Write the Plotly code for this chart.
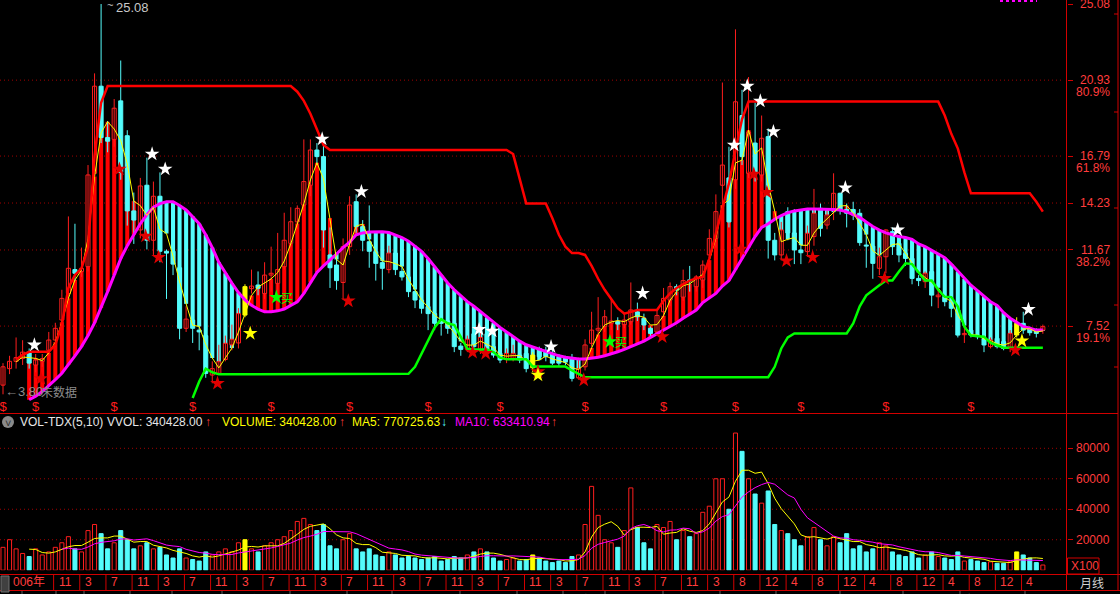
import numpy as np
import pandas as pd
import plotly.graph_objects as go

W, H = 1120, 594

# ---------------- data (monthly bars, 2006-03 .. 2019-07, 2015-07 missing) ----------------
opens = [4.30, 5.20, 5.60, 5.75, 6.10, 5.40, 5.60, 6.20, 6.76, 7.85,
         9.30, 10.60, 10.50, 10.76, 15.85, 20.60, 17.80, 17.70, 19.80, 17.90,
         13.80, 12.76, 15.20, 12.20, 14.60, 11.60, 11.60, 10.70, 7.40, 7.85,
         7.30, 7.00, 4.85, 4.94, 5.70, 6.50, 6.60, 8.12, 9.56, 9.76,
         9.30, 10.30, 9.85, 10.76, 12.03, 13.20, 14.12, 15.20, 17.12, 16.76,
         11.40, 10.85, 9.90, 11.85, 14.30, 12.94, 12.12, 11.58, 10.98, 10.60,
         11.50, 10.50, 10.20, 9.40, 8.94, 8.58, 8.20, 7.85, 7.80, 7.67,
         6.43, 6.25, 7.10, 6.20, 7.10, 6.40, 6.03, 5.70, 5.70, 5.94,
         6.03, 5.25, 6.30, 6.20, 6.03, 5.85, 5.76, 5.76, 4.70, 5.30,
         6.58, 7.30, 7.49, 7.67, 7.76, 7.60, 7.76, 8.30, 7.94, 7.40,
         7.20, 8.30, 8.94, 9.67, 9.10, 10.03, 9.67, 10.03, 11.40, 12.30,
         15.20, 15.60, 15.50, 19.00, 15.85, 17.50, 15.76, 17.85, 12.20, 11.40,
         13.76, 12.60, 11.67, 11.58, 12.40, 13.94, 13.03, 13.85, 14.76, 13.88,
         13.88, 13.67, 11.90, 11.88, 10.67, 11.30, 12.67, 12.03, 11.49, 11.21,
         10.12, 9.94, 10.49, 9.12, 9.12, 8.85, 8.40, 7.05, 7.30, 7.03,
         6.85, 6.40, 6.85, 6.67, 6.30, 7.03, 7.67, 7.40, 7.30, 7.30]
highs = [5.50, 5.90, 6.90, 6.75, 6.30, 6.00, 6.00, 7.20, 7.70, 9.50,
         13.50, 13.10, 11.80, 16.30, 21.30, 25.08, 18.70, 19.90, 22.00, 18.20,
         14.80, 15.60, 16.70, 15.40, 15.90, 11.70, 11.80, 10.90, 8.60, 8.60,
         8.20, 7.20, 5.60, 6.50, 7.00, 7.60, 8.50, 9.80, 10.60, 10.50,
         11.00, 11.85, 12.60, 13.70, 14.00, 14.10, 17.70, 17.70, 17.50, 17.40,
         12.90, 11.20, 12.30, 14.60, 14.70, 13.30, 14.10, 12.00, 11.20, 11.90,
         11.90, 10.90, 10.30, 9.60, 9.20, 8.80, 8.40, 8.00, 8.00, 8.00,
         6.60, 7.00, 7.30, 7.40, 7.40, 6.60, 6.20, 6.30, 6.50, 6.30,
         6.20, 6.10, 6.40, 6.40, 6.30, 6.00, 5.90, 6.00, 5.80, 6.80,
         8.30, 9.10, 8.40, 9.00, 8.00, 8.20, 9.90, 8.80, 8.20, 7.50,
         8.40, 9.60, 9.90, 9.80, 10.60, 10.80, 10.30, 11.10, 12.80, 14.70,
         20.80, 17.30, 23.70, 20.40, 21.10, 19.70, 19.00, 18.30, 12.60, 13.20,
         14.00, 13.90, 12.20, 13.00, 15.00, 14.20, 13.80, 15.85, 14.80, 14.20,
         14.30, 13.90, 12.60, 12.20, 11.80, 12.80, 12.90, 12.40, 11.70, 11.40,
         10.30, 10.50, 10.60, 9.50, 9.40, 9.00, 8.60, 7.50, 7.50, 7.20,
         7.00, 6.90, 7.00, 6.80, 7.30, 8.00, 8.30, 7.50, 7.40, 7.60]
lows = [3.80, 4.90, 5.20, 5.40, 5.20, 5.00, 5.30, 5.90, 6.40, 7.60,
        9.00, 10.00, 10.20, 10.50, 15.50, 17.50, 17.00, 17.30, 15.50, 13.00,
        12.00, 12.30, 11.70, 11.40, 11.00, 9.00, 10.30, 6.80, 7.20, 6.60,
        6.20, 4.70, 4.40, 4.90, 5.60, 6.20, 6.30, 8.00, 9.30, 9.20,
        9.00, 9.40, 9.40, 10.60, 11.80, 12.80, 13.80, 14.60, 16.30, 11.80,
        9.60, 9.50, 8.97, 11.40, 12.60, 11.60, 10.70, 10.00, 9.50, 10.40,
        10.30, 10.00, 9.10, 8.50, 8.20, 7.30, 7.30, 7.00, 7.10, 6.10,
        5.90, 6.10, 6.20, 6.00, 6.00, 5.80, 5.50, 5.50, 5.60, 5.50,
        5.00, 5.00, 5.70, 5.60, 5.40, 5.30, 5.40, 4.50, 4.60, 5.10,
        6.40, 6.90, 7.20, 7.30, 7.30, 7.40, 7.60, 7.80, 7.30, 6.90,
        7.00, 8.00, 8.60, 9.20, 8.90, 9.40, 9.40, 9.60, 11.10, 11.80,
        14.00, 12.90, 15.00, 16.30, 15.60, 15.40, 15.40, 11.20, 11.10, 11.10,
        12.20, 10.90, 10.90, 11.30, 11.90, 12.40, 12.80, 13.30, 13.60, 12.90,
        13.30, 11.90, 10.70, 10.10, 10.30, 10.40, 11.40, 11.00, 10.80, 9.80,
        9.70, 9.60, 8.60, 8.50, 8.60, 8.00, 6.90, 6.60, 6.90, 6.80,
        6.10, 6.30, 6.30, 6.20, 6.10, 6.90, 7.10, 7.00, 6.90, 7.10]
closes = [5.30, 5.60, 5.80, 6.10, 5.50, 5.67, 5.75, 6.76, 7.40, 9.03,
          10.67, 10.40, 10.67, 15.76, 20.60, 17.80, 17.60, 19.40, 15.90, 13.80,
          13.30, 15.16, 12.20, 14.60, 11.60, 11.50, 10.90, 7.40, 7.90, 7.40,
          7.20, 4.94, 5.20, 5.58, 6.58, 6.80, 8.20, 9.67, 9.70, 9.58,
          10.30, 10.40, 10.60, 12.20, 13.21, 13.94, 15.40, 17.12, 16.76, 12.76,
          10.70, 10.00, 11.85, 14.12, 12.94, 12.20, 11.60, 10.94, 10.67, 11.50,
          10.60, 10.20, 9.40, 8.94, 8.49, 8.20, 7.67, 7.67, 7.40, 6.40,
          6.25, 6.80, 6.40, 6.90, 6.20, 5.94, 5.67, 6.03, 6.03, 5.67,
          5.20, 5.94, 5.85, 5.85, 5.50, 5.50, 5.58, 4.67, 5.20, 6.49,
          7.30, 7.40, 8.03, 7.80, 7.63, 7.85, 8.40, 8.03, 7.58, 7.12,
          8.10, 9.03, 9.67, 9.49, 10.00, 9.98, 10.20, 10.85, 12.30, 13.76,
          16.30, 13.20, 19.75, 16.76, 18.10, 15.85, 17.76, 12.20, 11.40, 12.76,
          12.60, 11.67, 11.52, 12.58, 13.67, 12.85, 13.58, 14.76, 13.85, 13.67,
          13.58, 12.07, 11.88, 10.94, 11.30, 12.76, 11.85, 11.40, 11.21, 10.12,
          10.00, 10.40, 9.21, 9.21, 8.85, 8.49, 7.03, 7.12, 7.03, 6.94,
          6.49, 6.76, 6.40, 6.30, 7.12, 7.67, 7.30, 7.16, 7.12, 7.49]
volumes = [15000, 20000, 14000, 11000, 9000, 14000, 10000, 12000, 15000, 18000,
           22000, 14000, 12000, 26000, 30000, 24000, 14000, 18000, 26000, 20000,
           14000, 16000, 18000, 14000, 15000, 10000, 8000, 14000, 8000, 7000,
           6000, 12000, 10000, 12000, 14000, 12000, 18000, 20000, 14000, 12000,
           16000, 18000, 20000, 22000, 26000, 32000, 34000, 30000, 26000, 30000,
           16000, 14000, 20000, 24000, 14000, 12000, 14000, 10000, 9000, 12000,
           10000, 8000, 9000, 8000, 7000, 8000, 9000, 6000, 7000, 9000,
           8000, 10000, 12000, 14000, 12000, 8000, 6000, 7000, 8000, 6000,
           7000, 10000, 8000, 6000, 5000, 6000, 5000, 9000, 10000, 30000,
           55000, 36000, 20000, 18000, 15000, 26000, 54000, 28000, 18000, 14000,
           30000, 28000, 32000, 20000, 26000, 22000, 24000, 38000, 42000, 60000,
           60000, 40000, 90000, 78000, 60000, 50000, 44000, 52000, 30000, 26000,
           24000, 20000, 16000, 22000, 28000, 20000, 16000, 22000, 18000, 24000,
           14000, 16000, 12000, 14000, 18000, 16000, 12000, 10000, 9000, 12000,
           8000, 10000, 12000, 9000, 8000, 7000, 12000, 6000, 7000, 6000,
           5000, 5500, 4500, 4500, 5500, 12000, 10000, 8000, 5000, 3404]
slow_line = [None, None, None, None, 3.50, 3.70, 3.95, 4.25, 4.60, 4.95,
             5.40, 5.90, 6.40, 7.00, 7.70, 8.50, 9.40, 10.30, 11.20, 11.90,
             12.50, 13.10, 13.60, 14.00, 14.20, 14.30, 14.30, 14.10, 13.85, 13.50,
             13.10, 12.50, 11.80, 11.00, 10.40, 9.86, 9.35, 8.95, 8.65, 8.45,
             8.30, 8.30, 8.35, 8.45, 8.65, 8.84, 9.30, 9.90, 10.45, 10.80,
             11.10, 11.45, 11.80, 12.10, 12.50, 12.60, 12.65, 12.66, 12.66, 12.62,
             12.50, 12.35, 12.15, 11.90, 11.60, 11.20, 10.75, 10.30, 9.87, 9.50,
             9.15, 8.85, 8.60, 8.30, 8.00, 7.70, 7.45, 7.20, 6.95, 6.70,
             6.50, 6.38, 6.25, 6.12, 6.00, 5.90, 5.82, 5.76, 5.72, 5.72,
             5.76, 5.82, 5.90, 6.00, 6.12, 6.25, 6.38, 6.55, 6.70, 6.90,
             7.10, 7.30, 7.50, 7.70, 7.95, 8.15, 8.39, 8.80, 9.05, 9.30,
             9.70, 10.00, 10.60, 11.20, 11.80, 12.40, 12.90, 13.10, 13.35, 13.55,
             13.70, 13.80, 13.85, 13.90, 13.90, 13.90, 13.90, 13.88, 13.85, 13.75,
             13.60, 13.45, 13.20, 12.95, 12.75, 12.60, 12.50, 12.40, 12.35, 12.25,
             12.00, 11.85, 11.65, 11.45, 11.25, 10.90, 10.50, 10.10, 9.75, 9.45,
             9.15, 8.85, 8.65, 8.25, 7.95, 7.70, 7.50, 7.40, 7.30, 7.30]
upper_line = [None, None, 5.70, 5.95, 6.12, 6.12, 6.12, 6.12, 6.50, 7.60,
              9.60, 10.30, 10.67, 11.80, 16.80, 19.70, 20.61, 20.61, 20.61, 20.61,
              20.61, 20.61, 20.61, 20.61, 20.61, 20.61, 20.61, 20.61, 20.61, 20.61,
              20.61, 20.61, 20.61, 20.61, 20.61, 20.61, 20.61, 20.61, 20.61, 20.61,
              20.61, 20.61, 20.61, 20.61, 20.61, 20.30, 19.80, 19.10, 18.20, 17.40,
              17.12, 17.12, 17.12, 17.12, 17.12, 17.12, 17.12, 17.12, 17.12, 17.12,
              17.12, 17.12, 17.12, 17.12, 17.12, 17.12, 17.12, 17.12, 17.12, 17.12,
              17.12, 17.12, 17.12, 17.12, 17.12, 17.12, 17.12, 17.12, 16.90, 15.60,
              14.21, 14.21, 14.21, 14.21, 13.40, 12.50, 11.85, 11.50, 11.50, 11.40,
              10.80, 10.10, 9.50, 9.00, 8.50, 8.20, 8.30, 8.40, 8.40, 8.40,
              8.40, 8.90, 9.30, 9.60, 9.80, 10.00, 10.12, 10.20, 11.20, 12.60,
              13.90, 15.30, 17.10, 18.80, 19.76, 19.76, 19.76, 19.76, 19.76, 19.76,
              19.76, 19.76, 19.76, 19.76, 19.76, 19.76, 19.76, 19.76, 19.76, 19.76,
              19.76, 19.76, 19.76, 19.76, 19.76, 19.76, 19.76, 19.76, 19.76, 19.76,
              19.76, 19.76, 19.76, 19.76, 19.00, 18.00, 17.20, 15.90, 14.76, 14.76,
              14.76, 14.76, 14.76, 14.76, 14.76, 14.76, 14.76, 14.76, 14.30, 13.76]
lower_line = [None, None, None, None, None, None, None, None, None, None,
              None, None, None, None, None, None, None, None, None, None,
              None, None, None, None, None, None, None, None, None, 3.60,
              4.50, 5.20, 5.00, 4.89, 4.89, 4.89, 4.89, 4.89, 4.89, 4.89,
              4.89, 4.89, 4.89, 4.89, 4.89, 4.89, 4.89, 4.89, 4.89, 4.89,
              4.89, 4.89, 4.89, 4.89, 4.89, 4.89, 4.89, 4.89, 4.89, 4.89,
              4.89, 4.89, 4.92, 5.30, 6.00, 6.75, 7.45, 7.90, 7.67, 7.58,
              6.94, 6.28, 6.25, 6.25, 6.25, 6.10, 5.80, 5.71, 5.71, 5.71,
              5.71, 5.31, 5.31, 5.31, 5.31, 5.31, 5.31, 5.10, 4.90, 4.73,
              4.73, 4.73, 4.73, 4.73, 4.73, 4.73, 4.73, 4.73, 4.73, 4.73,
              4.73, 4.73, 4.73, 4.73, 4.73, 4.73, 4.73, 4.73, 4.73, 4.73,
              4.73, 4.73, 4.73, 4.73, 4.73, 4.73, 4.73, 4.73, 5.30, 6.30,
              6.90, 7.12, 7.12, 7.12, 7.12, 7.12, 7.12, 7.12, 7.12, 7.12,
              7.67, 8.60, 9.20, 9.50, 9.75, 10.00, 10.00, 10.50, 10.94, 10.90,
              10.45, 10.00, 10.00, 9.50, 9.12, 9.10, 8.58, 7.49, 7.00, 6.95,
              6.94, 6.60, 6.45, 6.34, 6.34, 6.34, 6.34, 6.34, 6.34, 6.34]
yellow_bars = [37, 81, 155]

white_star_idx = [4, 22, 24, 48, 54, 72, 74, 83, 97, 111, 113, 115, 117, 128, 136, 156]
white_star_val = [6.49, 16.90, 16.08, 17.72, 14.85, 7.34, 7.25, 6.39, 9.31, 17.39, 20.61, 19.79, 18.12, 15.06, 12.76, 8.43]
red_star_idx = [5, 17, 21, 23, 32, 52, 71, 73, 81, 88, 100, 112, 114, 116, 119, 123, 134, 154]
red_star_val = [4.66, 16.08, 12.43, 11.27, 4.40, 8.89, 6.09, 6.03, 5.03, 4.58, 6.94, 11.72, 15.81, 14.81, 11.08, 11.27, 10.12, 6.21]
yellow_star_idx = [37, 81, 155]
yellow_star_val = [7.12, 4.85, 6.71]
buy_idx = [41, 92]
buy_val = [9.09, 6.67]
dollar_idx = [0, 5, 17, 29, 41, 53, 65, 76, 89, 101, 112, 122, 135, 148]

tick_idx = [8, 12, 16, 20, 24, 28, 32, 36, 40, 44, 48, 52, 56, 60, 64, 68, 72, 76, 80, 84,
            88, 92, 96, 100, 104, 108, 112, 116, 120, 124, 128, 132, 136, 140, 144, 148, 152, 156]
tick_text = ["11", "3", "7", "11", "3", "7", "11", "3", "7", "11", "3", "7", "11", "3", "7", "11",
             "3", "7", "11", "3", "7", "11", "3", "7", "11", "3", "8", "12", "4", "8", "12", "4",
             "8", "12", "4", "8", "12", "4"]
first_label = "006年"

price_ticks = [25.08, 20.93, 16.79, 14.23, 11.67, 7.52]
price_pct = ["", "80.9%", "61.8%", "", "38.2%", "19.1%"]
vol_ticks = [20000, 40000, 60000, 80000]
vol_tick_text = ["20000", "40000", "60000", "80000"]

# ---------------- styling ----------------
RED = "#ff1e1e"
STRIPE_RED = "#ff0000"
CYAN = "#54fcfc"
YEL = "#ffff00"
MAG = "#ff00ff"
GRN = "#00ff00"
AXRED = "#d20000"
LBLRED = "#ff3c3c"
GRIDRED = "#a00000"
FONT = "Liberation Sans, Arial, Noto Sans CJK SC"
CJK = "Noto Sans CJK SC"

SPACING = 6.54      # px per bar
X0PX = 3.0          # px of bar 0
PLOT_R = 1066.7     # right edge of plot area (px)
x_range = [-X0PX / SPACING, (PLOT_R - X0PX) / SPACING]
P_TOP, P_PER_PX = 25.30, 1 / 18.34
MAIN_BOT = 412
main_range = [P_TOP - MAIN_BOT * P_PER_PX, P_TOP]
VOL_TOP, VOL_BOT = 425, 570.2
vol_range = [0, (VOL_BOT - VOL_TOP) / 121.9 * 80000]


def PX(px):
    return px / W


def PY(py):
    return 1 - py / H


idx = np.arange(len(closes))
o = np.array(opens); hi = np.array(highs); lo = np.array(lows); c = np.array(closes)
v = np.array(volumes, float)
up = c >= o
is_yel = np.isin(idx, yellow_bars)

fast = pd.Series(c).rolling(3).mean().to_numpy()
slow = np.array([np.nan if t is None else t for t in slow_line], float)
vma5 = pd.Series(v).rolling(5).mean().to_numpy()
vma10 = pd.Series(v).rolling(10).mean().to_numpy()

fig = go.Figure()

ok = ~np.isnan(fast) & ~np.isnan(slow)
diff = (fast - slow)[ok]
fig.add_trace(go.Bar(x=idx[ok], base=slow[ok], y=diff, width=0.62,
                     marker=dict(color=[STRIPE_RED if d > 0 else CYAN for d in diff], line=dict(width=0)),
                     xaxis="x", yaxis="y", hoverinfo="skip"))


def wick_trace(mask, color):
    xs, ys = [], []
    for i in idx[mask]:
        xs += [i, i, None]
        ys += [lo[i], hi[i], None]
    return go.Scatter(x=xs, y=ys, mode="lines", line=dict(color=color, width=1),
                      xaxis="x", yaxis="y", hoverinfo="skip")


fig.add_trace(wick_trace(up & ~is_yel, RED))
fig.add_trace(wick_trace(~up & ~is_yel, CYAN))
fig.add_trace(wick_trace(is_yel, YEL))

body_base = np.minimum(o, c)
body_h = np.maximum(np.abs(c - o), 0.06)
fill = np.where(is_yel, YEL, np.where(up, "#000000", CYAN))
edge = np.where(is_yel, YEL, np.where(up, RED, CYAN))
fig.add_trace(go.Bar(x=idx, base=body_base, y=body_h, width=0.62,
                     marker=dict(color=fill.tolist(), line=dict(color=edge.tolist(), width=1)),
                     xaxis="x", yaxis="y", hoverinfo="skip"))

fig.add_trace(go.Scatter(x=idx, y=slow, mode="lines", line=dict(color=MAG, width=3),
                         xaxis="x", yaxis="y", hoverinfo="skip"))
fig.add_trace(go.Scatter(x=idx, y=fast, mode="lines", line=dict(color=YEL, width=1),
                         xaxis="x", yaxis="y", hoverinfo="skip"))
fig.add_trace(go.Scatter(x=idx, y=upper_line, mode="lines", line=dict(color=STRIPE_RED, width=2.5),
                         xaxis="x", yaxis="y", hoverinfo="skip"))
fig.add_trace(go.Scatter(x=idx, y=lower_line, mode="lines", line=dict(color=GRN, width=2.5),
                         xaxis="x", yaxis="y", hoverinfo="skip"))

SO = 0.8
for sidx, sval, col in [(red_star_idx, red_star_val, "#e00000"),
                        (white_star_idx, white_star_val, "#ffffff"),
                        (yellow_star_idx, yellow_star_val, YEL),
                        (buy_idx, buy_val, GRN)]:
    fig.add_trace(go.Scatter(x=np.array(sidx) + SO, y=sval, mode="markers",
                             marker=dict(symbol="star", size=11, color=col, line=dict(width=0)),
                             xaxis="x", yaxis="y", hoverinfo="skip"))

fig.add_trace(go.Scatter(x=dollar_idx, y=[P_TOP - 408 * P_PER_PX] * len(dollar_idx), mode="text",
                         text=["$"] * len(dollar_idx), textfont=dict(color=RED, size=13, family=FONT),
                         xaxis="x", yaxis="y", hoverinfo="skip"))

vfill = np.where(is_yel, YEL, np.where(up, "#000000", CYAN))
vedge = np.where(is_yel, YEL, np.where(up, RED, CYAN))
fig.add_trace(go.Bar(x=idx, y=v, width=0.62,
                     marker=dict(color=vfill.tolist(), line=dict(color=vedge.tolist(), width=1)),
                     xaxis="x2", yaxis="y2", hoverinfo="skip"))
fig.add_trace(go.Scatter(x=idx, y=vma5, mode="lines", line=dict(color=YEL, width=1),
                         xaxis="x2", yaxis="y2", hoverinfo="skip"))
fig.add_trace(go.Scatter(x=idx, y=vma10, mode="lines", line=dict(color=MAG, width=1),
                         xaxis="x2", yaxis="y2", hoverinfo="skip"))

shapes = []
ann = []

for p in price_ticks[1:]:
    shapes.append(dict(type="line", xref="paper", yref="y", x0=0, x1=PX(1062), y0=p, y1=p,
                       line=dict(color=GRIDRED, width=1, dash="1px,3px"), layer="below"))
for q in vol_ticks:
    shapes.append(dict(type="line", xref="paper", yref="y2", x0=0, x1=PX(1062), y0=q, y1=q,
                       line=dict(color=GRIDRED, width=1, dash="1px,3px"), layer="below"))


def hline(py, x0, x1, color=AXRED, w=1):
    shapes.append(dict(type="line", xref="paper", yref="paper", x0=PX(x0), x1=PX(x1),
                       y0=PY(py), y1=PY(py), line=dict(color=color, width=w)))


def vline(px, y0, y1, color=AXRED, w=1):
    shapes.append(dict(type="line", xref="paper", yref="paper", x0=PX(px), x1=PX(px),
                       y0=PY(y0), y1=PY(y1), line=dict(color=color, width=w)))


vline(1066.5, 0, 591)
vline(1118, 0, 591)
hline(413.5, 0, 1118)
hline(574.5, 0, 1120)
hline(590.5, 0, 1120)
for ty in [14, 112, 208, 305, 367]:
    hline(ty, 1114, 1118)
shapes.append(dict(type="rect", xref="paper", yref="paper", x0=PX(1067.5), x1=PX(1099), y0=PY(574), y1=PY(558),
                   line=dict(color=AXRED, width=1)))
shapes.append(dict(type="line", xref="paper", yref="paper", x0=PX(1000), x1=PX(1037), y0=PY(1), y1=PY(1),
                   line=dict(color=MAG, width=2, dash="3px,3px")))
for ti in tick_idx:
    shapes.append(dict(type="line", xref="x", yref="paper", x0=ti - 0.26, x1=ti - 0.26,
                       y0=PY(590), y1=PY(575), line=dict(color=AXRED, width=1)))
shapes.append(dict(type="rect", xref="paper", yref="paper", x0=PX(1), x1=PX(9), y0=PY(592), y1=PY(576),
                   line=dict(color="#707070", width=1), fillcolor="#404040"))
shapes.append(dict(type="circle", xref="paper", yref="paper", x0=PX(2), x1=PX(14), y0=PY(428), y1=PY(416),
                   line=dict(width=0), fillcolor="#8a8a8a"))
for tx in [22, 56, 84, 130, 172, 222, 290, 347, 392, 460, 517, 563, 605, 663, 720, 776, 840, 903, 960, 1025]:
    vline(tx, 591, 594, color="#606060")

for p, pct in zip(price_ticks, price_pct):
    ann.append(dict(x=PX(1112), xref="paper", y=p, yref="y", text=f"{p:.2f}", showarrow=False,
                    xanchor="right", yanchor="middle", font=dict(color=LBLRED, size=12, family=FONT)))
    if pct:
        ann.append(dict(x=PX(1112), xref="paper", y=p, yref="y", yshift=-12, text=pct, showarrow=False,
                        xanchor="right", yanchor="middle", font=dict(color=LBLRED, size=12, family=FONT)))
for q, t in zip(vol_ticks, vol_tick_text):
    ann.append(dict(x=PX(1112), xref="paper", y=q, yref="y2", text=t, showarrow=False,
                    xanchor="right", yanchor="middle", font=dict(color=LBLRED, size=12, family=FONT)))
ann.append(dict(x=PX(1069), xref="paper", y=PY(566), yref="paper", text="X100", showarrow=False,
                xanchor="left", yanchor="middle", font=dict(color=LBLRED, size=12, family=FONT)))
ann.append(dict(x=PX(1092), xref="paper", y=PY(582), yref="paper", text="月线", showarrow=False,
                xanchor="center", yanchor="middle", font=dict(color="#d0d0d0", size=12, family=CJK)))

ann.append(dict(x=PX(10.5), xref="paper", y=PY(582), yref="paper", text=first_label, showarrow=False,
                xanchor="left", yanchor="middle", font=dict(color=LBLRED, size=12, family=FONT)))
for ti, tt in zip(tick_idx, tick_text):
    ann.append(dict(x=ti, xref="x", xshift=1.2, y=PY(582), yref="paper", text=tt, showarrow=False,
                    xanchor="left", yanchor="middle", font=dict(color=LBLRED, size=12, family=FONT)))

ann.append(dict(x=15, xref="x", y=25.08, yref="y", xshift=13, yshift=-3, text="25.08", showarrow=False,
                xanchor="left", yanchor="middle", font=dict(color="#c8c8c8", size=13, family=FONT)))
ann.append(dict(x=15, xref="x", y=25.08, yref="y", xshift=4, yshift=-1, text="~", showarrow=False,
                xanchor="left", yanchor="middle", font=dict(color="#c8c8c8", size=11, family=FONT)))
ann.append(dict(x=0, xref="x", y=3.80, yref="y", xshift=0, yshift=3, text="←3.80", showarrow=False,
                xanchor="left", yanchor="middle", font=dict(color="#8c8c8c", size=13, family=FONT)))
ann.append(dict(x=0, xref="x", y=3.80, yref="y", xshift=36, yshift=3, text="未数据", showarrow=False,
                xanchor="left", yanchor="middle", font=dict(color="#8c8c8c", size=12, family=CJK)))

for bi, bv in zip(buy_idx, buy_val):
    ann.append(dict(x=bi + SO, xref="x", y=bv, yref="y", xshift=11, text="买", showarrow=False,
                    xanchor="center", yanchor="middle", font=dict(color=GRN, size=12, family=CJK)))

legend_items = [(18, "VOL-TDX(5,10)", "#e6e6e6"), (105, "VVOL: 340428.00", "#e6e6e6"), (203, "↑", LBLRED),
                (220, "VOLUME: 340428.00", YEL), (337, "↑", LBLRED),
                (350, "MA5: 770725.63", YEL), (439, "↓", CYAN),
                (453, "MA10: 633410.94", MAG), (549, "↑", LBLRED)]
for lx, lt, lc in legend_items:
    ann.append(dict(x=PX(lx), xref="paper", y=PY(422), yref="paper", text=lt, showarrow=False,
                    xanchor="left", yanchor="middle", font=dict(color=lc, size=12, family=FONT)))
ann.append(dict(x=PX(8), xref="paper", y=PY(423), yref="paper", text="˅", showarrow=False,
                xanchor="center", yanchor="middle", font=dict(color="#303030", size=11, family=FONT)))

tabs = [(2, "行"), (26, "操作"), (60, "加四"), (90, "日白山"), (134, "指入口"), (176, "三层金网"),
        (226, "七同门道"), (294, "副指标"), (350, "副图"), (396, "主力追踪"), (464, "大单"),
        (520, "组合分析"), (566, "博弈"), (608, "资金流向"), (666, "主力筹码"), (724, "SAR"),
        (780, "量价分析"), (844, "筹码分布"), (906, "主力资金"), (964, "超级短线"), (1028, "其他")]
for tx, tt in tabs:
    ann.append(dict(x=PX(tx), xref="paper", y=PY(599), yref="paper", text=tt, showarrow=False,
                    xanchor="left", yanchor="middle", font=dict(color="#b0b0b0", size=12, family=CJK)))

fig.update_layout(
    width=W, height=H, margin=dict(l=0, r=0, t=0, b=0),
    paper_bgcolor="#000000", plot_bgcolor="#000000",
    showlegend=False, barmode="overlay", hovermode=False,
    xaxis=dict(domain=[0, PX(PLOT_R)], range=x_range, visible=False, anchor="y"),
    xaxis2=dict(domain=[0, PX(PLOT_R)], range=x_range, visible=False, anchor="y2", matches="x"),
    yaxis=dict(domain=[PY(MAIN_BOT), 1], range=main_range, side="right", anchor="x",
               tickvals=price_ticks, ticks="outside", ticklen=5, tickcolor=AXRED,
               showticklabels=False, showgrid=False, zeroline=False, showline=False),
    yaxis2=dict(domain=[PY(VOL_BOT), PY(VOL_TOP)], range=vol_range, side="right", anchor="x2",
                tickvals=vol_ticks, ticks="outside", ticklen=5, tickcolor=AXRED,
                showticklabels=False, showgrid=False, zeroline=False, showline=False),
    shapes=shapes, annotations=ann,
)

fig.write_html("out.html", config={"displayModeBar": False, "staticPlot": True},
               post_script="document.body.style.margin='0';document.body.style.background='#000';"
                           "document.documentElement.style.overflow='hidden';")
